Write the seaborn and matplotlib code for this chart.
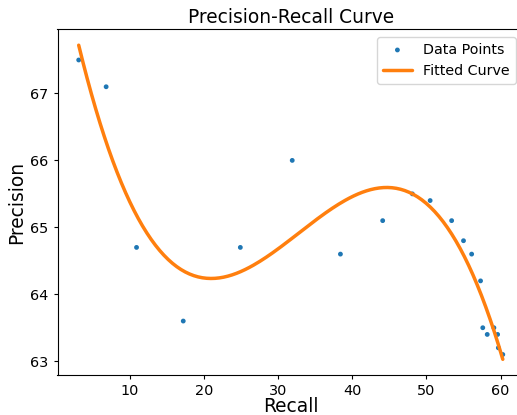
import numpy as np
import matplotlib
matplotlib.use("Agg")
import matplotlib.pyplot as plt
import seaborn as sns

recall = [3.1, 6.8, 10.9, 17.2, 24.9, 31.9, 38.4, 44.1, 48.1, 50.5, 53.4, 55.0,
          56.1, 57.3, 57.6, 58.2, 59.1, 59.6, 59.7, 60.3]
precision = [67.5, 67.1, 64.7, 63.6, 64.7, 66.0, 64.6, 65.1, 65.5, 65.4, 65.1, 64.8,
             64.6, 64.2, 63.5, 63.4, 63.5, 63.4, 63.2, 63.1]

sns.set_style("ticks", rc={"text.color": "black", "axes.labelcolor": "black",
                           "xtick.color": "black", "ytick.color": "black",
                           "axes.edgecolor": "black"})
plt.rcParams['font.family'] = ['DejaVu Sans']

fig = plt.figure(figsize=(5.17, 4.15), dpi=100)
ax = fig.add_axes([57.5/517, 40/415, (524-57.5)/517, (375-29.5)/415])
x = np.array(recall)
y = np.array(precision)
coef = np.polyfit(x, y, 3)
xs = np.linspace(x.min(), x.max(), 200)
ys = np.polyval(coef, xs)

sns.scatterplot(x=recall, y=precision, ax=ax, s=12, color="#1f77b4", edgecolor="none",
                label="Data Points")
sns.lineplot(x=xs, y=ys, ax=ax, color="#ff7f0e", linewidth=2.5, label="Fitted Curve")
ax.legend(fontsize=10.3, loc="upper right", borderaxespad=0,
          bbox_to_anchor=(515.5/517, (415-37)/415), bbox_transform=fig.transFigure)
ax.set_title("Precision-Recall Curve", fontsize=13.4, pad=5)
ax.set_xlabel("Recall", fontsize=13.4, labelpad=-1)
ax.set_ylabel("Precision", fontsize=13.4, labelpad=3)
ax.tick_params(labelsize=10.4, length=3.2, pad=3.2, width=0.8)
for s in ax.spines.values():
    s.set_linewidth(0.8)
fig.savefig("out.png", dpi=100)
